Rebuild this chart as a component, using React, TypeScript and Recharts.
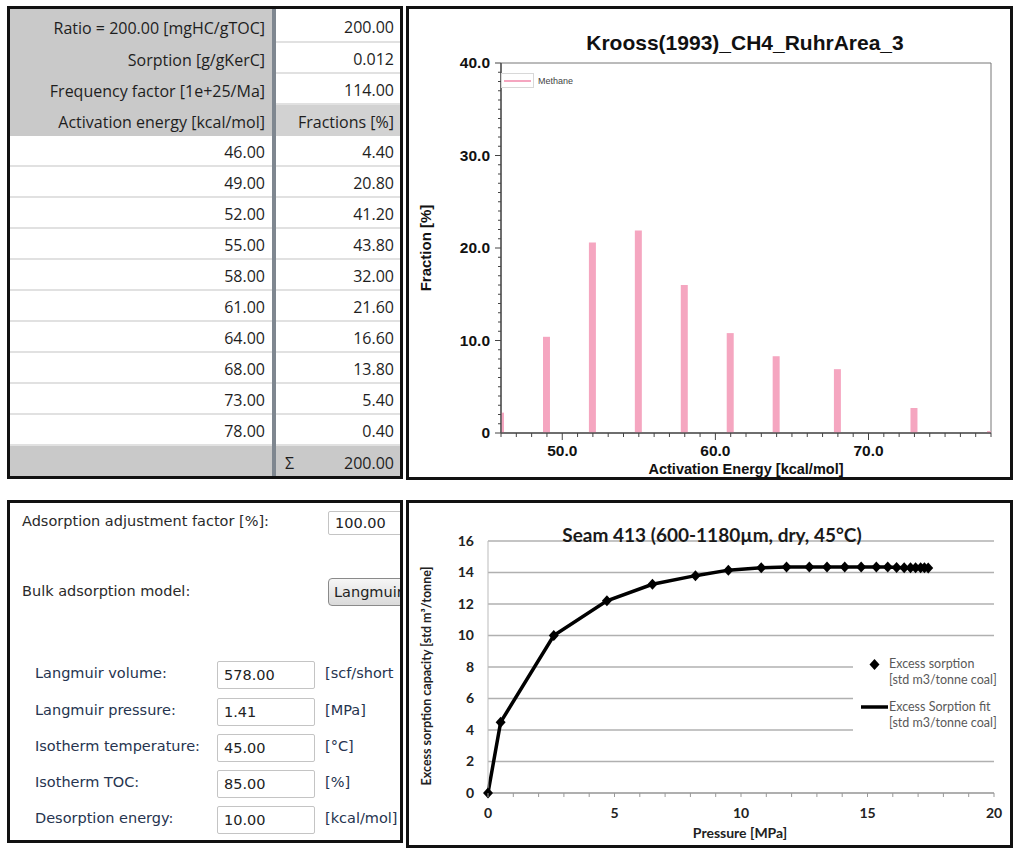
import React from 'react';
import {
  BarChart,
  Bar,
  XAxis,
  YAxis,
  Legend,
  ReferenceArea,
  ComposedChart,
  Line,
  Scatter,
  CartesianGrid,
} from 'recharts';

// kinetic table (top left)
const paramLabels = ['Ratio = 200.00 [mgHC/gTOC]', 'Sorption [g/gKerC]', 'Frequency factor [1e+25/Ma]'];
const paramValues = ['200.00', '0.012', '114.00'];
const activationEnergy = [46, 49, 52, 55, 58, 61, 64, 68, 73, 78];
const tableFractions = [4.4, 20.8, 41.2, 43.8, 32.0, 21.6, 16.6, 13.8, 5.4, 0.4];
const fractionSum = 200;

// bar chart (top right), heights
const barFractions = [2.2, 10.4, 20.6, 21.9, 16.0, 10.8, 8.3, 6.9, 2.7, 0.2];
const energyTicks = Array.from({ length: 33 }, (_, i) => 46 + i);
const energyLabels = [50, 60, 70];
const fractionTicks = Array.from({ length: 41 }, (_, i) => i);
const fractionLabels = [0, 10, 20, 30, 40];

// adsorption form (bottom left)
const formLabels = ['Langmuir volume:', 'Langmuir pressure:', 'Isotherm temperature:', 'Isotherm TOC:', 'Desorption energy:'];
const formValues = ['578.00', '1.41', '45.00', '85.00', '10.00'];
const formUnits = ['[scf/short', '[MPa]', '[\u00b0C]', '[%]', '[kcal/mol]'];

// isotherm (bottom right)
const pressureMPa = [0, 0.5, 2.6, 4.7, 6.5, 8.2, 9.5, 10.8, 11.8, 12.7, 13.4, 14.1, 14.75, 15.35, 15.8, 16.15, 16.45, 16.7, 16.9, 17.1, 17.25, 17.4];
const excessSorption = [0, 4.5, 10.0, 12.2, 13.25, 13.8, 14.15, 14.3, 14.35, 14.35, 14.35, 14.35, 14.35, 14.35, 14.35, 14.32, 14.3, 14.3, 14.3, 14.3, 14.3, 14.28];
const pressureTicks = Array.from({ length: 21 }, (_, i) => i);
const pressureLabels = [0, 5, 10, 15, 20];
const sorptionTicks = [0, 2, 4, 6, 8, 10, 12, 14, 16];

const PINK = '#f5a6c0';
const GRAY = '#c9c9c9';

const panel = (left: number, top: number, width: number, height: number): React.CSSProperties => ({
  position: 'absolute',
  left,
  top,
  width,
  height,
  border: '3px solid #111',
  boxSizing: 'border-box',
  overflow: 'hidden',
  background: '#fff',
});

function KineticTable() {
  const rows: { left: string; right: string; lb: string; rb: string; sigma?: boolean }[] = [];
  paramLabels.forEach((l, i) => rows.push({ left: l, right: paramValues[i], lb: GRAY, rb: '#fff' }));
  rows.push({ left: 'Activation energy [kcal/mol]', right: 'Fractions [%]', lb: GRAY, rb: '#d2d2d2' });
  activationEnergy.forEach((e, i) =>
    rows.push({ left: e.toFixed(2), right: tableFractions[i].toFixed(2), lb: '#fff', rb: '#fff' })
  );
  rows.push({ left: '', right: fractionSum.toFixed(2), lb: GRAY, rb: GRAY, sigma: true });

  const cell = (bg: string, width: number, h: number): React.CSSProperties => ({
    width,
    height: h,
    background: bg,
    boxSizing: 'border-box',
    borderBottom: bg === '#fff' ? '2px solid #e1e1e1' : 'none',
    display: 'flex',
    alignItems: 'center',
    justifyContent: 'flex-end',
    paddingTop: 3,
    position: 'relative',
  });

  return (
    <div style={{ fontFamily: '"Open Sans", sans-serif', fontSize: 16, color: '#1e1e1e' }}>
      {rows.map((r, i) => {
        const h = i === 0 ? 34 : 31;
        return (
          <div key={i} style={{ display: 'flex', height: h }}>
            <div style={{ ...cell(r.lb, 262, h), paddingRight: 7 }}>{r.left}</div>
            <div style={{ width: 4, height: h, background: '#7f8790' }} />
            <div style={{ ...cell(r.rb, 124, h), paddingRight: 6 }}>
              {r.sigma && <span style={{ position: 'absolute', left: 9 }}>Σ</span>}
              {r.right}
            </div>
          </div>
        );
      })}
    </div>
  );
}

function AdsorptionForm() {
  const font: React.CSSProperties = { fontFamily: '"DejaVu Sans", sans-serif', fontSize: 14.5 };
  const box: React.CSSProperties = {
    position: 'absolute',
    border: '1px solid #c4c4c4',
    borderRadius: 2,
    boxSizing: 'border-box',
    display: 'flex',
    alignItems: 'center',
    paddingLeft: 6,
    color: '#222',
  };
  return (
    <div style={{ ...font, position: 'absolute', inset: 0 }}>
      <div style={{ position: 'absolute', left: 12, top: 10, color: '#2a2a2a' }}>Adsorption adjustment factor [%]:</div>
      <div style={{ ...box, left: 318, top: 8, width: 90, height: 24 }}>100.00</div>
      <div style={{ position: 'absolute', left: 12, top: 80, color: '#2a2a2a' }}>Bulk adsorption model:</div>
      <div
        style={{
          ...box,
          left: 318,
          top: 75,
          width: 90,
          height: 28,
          border: '1px solid #8a8a8a',
          borderRadius: 4,
          background: 'linear-gradient(#f6f6f6, #dadada)',
          paddingLeft: 5,
        }}
      >
        Langmuir
      </div>
      {formLabels.map((l, i) => {
        const cy = [172, 209, 245, 281, 317][i];
        return (
          <React.Fragment key={l}>
            <div style={{ position: 'absolute', left: 25, top: cy - 10, color: '#26344f' }}>{l}</div>
            <div style={{ ...box, left: 207, top: cy - 14, width: 98, height: 28 }}>{formValues[i]}</div>
            <div style={{ position: 'absolute', left: 315, top: cy - 10, color: '#26344f', whiteSpace: 'nowrap' }}>
              {formUnits[i]}
            </div>
          </React.Fragment>
        );
      })}
    </div>
  );
}

function EnergyTick({ x, y, payload }: any) {
  const v = payload.value as number;
  const major = energyLabels.includes(v);
  return (
    <g>
      <line x1={x} y1={y} x2={x} y2={y + (major ? 7 : 4)} stroke="#444" />
      {major && (
        <text x={x} y={y + 23} textAnchor="middle" fontFamily="Liberation Sans" fontWeight={700} fontSize={15.5} fill="#111">
          {v.toFixed(1)}
        </text>
      )}
    </g>
  );
}

function FractionTick({ x, y, payload }: any) {
  const v = payload.value as number;
  const major = fractionLabels.includes(v);
  return (
    <g>
      <line x1={x} y1={y} x2={x - (major ? 6 : 3)} y2={y} stroke="#444" />
      {major && (
        <text x={x - 11} y={y + 5} textAnchor="end" fontFamily="Liberation Sans" fontWeight={700} fontSize={15.5} fill="#111">
          {v === 0 ? '0' : v.toFixed(1)}
        </text>
      )}
    </g>
  );
}

function FractionChart() {
  const data = activationEnergy.map((e, i) => ({ energy: e, fraction: barFractions[i] }));
  return (
    <>
      <BarChart width={601} height={468} data={data} margin={{ top: 54, right: 19, bottom: 0, left: 30 }}>
        <ReferenceArea x1={46} x2={78} y1={0} y2={40} fill="none" stroke="#777" strokeWidth={1} />
        <XAxis
          dataKey="energy"
          type="number"
          domain={[46, 78]}
          ticks={energyTicks}
          interval={0}
          allowDataOverflow
          height={44}
          tickSize={0}
          tickMargin={0}
          tickLine={false}
          tick={<EnergyTick />}
          axisLine={{ stroke: '#555', strokeWidth: 1.5 }}
        />
        <YAxis
          type="number"
          domain={[0, 40]}
          ticks={fractionTicks}
          interval={0}
          width={62}
          tickSize={0}
          tickMargin={0}
          tickLine={false}
          tick={<FractionTick />}
          axisLine={{ stroke: '#555', strokeWidth: 1.5 }}
        />
        <Legend
          layout="vertical"
          align="center"
          verticalAlign="middle"
          wrapperStyle={{ left: 92, top: 64, width: 'auto', height: 'auto' }}
          content={() => (
            <div style={{ display: 'flex', alignItems: 'center', fontFamily: 'Liberation Sans', fontSize: 9, color: '#444' }}>
              <div
                style={{
                  width: 33,
                  height: 15,
                  border: '1px solid #d8d8d8',
                  boxSizing: 'border-box',
                  display: 'flex',
                  alignItems: 'center',
                  justifyContent: 'center',
                }}
              >
                <div style={{ width: 27, height: 2, background: PINK }} />
              </div>
              <span style={{ marginLeft: 4 }}>Methane</span>
            </div>
          )}
        />
        <Bar dataKey="fraction" name="Methane" fill={PINK} barSize={7} isAnimationActive={false} />
      </BarChart>
      <div
        style={{
          position: 'absolute',
          left: 336,
          top: 34,
          transform: 'translate(-50%, -50%)',
          whiteSpace: 'nowrap',
          fontFamily: 'Liberation Sans',
          fontWeight: 700,
          fontSize: 21,
          color: '#111',
        }}
      >
        Krooss(1993)_CH4_RuhrArea_3
      </div>
      <div
        style={{
          position: 'absolute',
          left: 16,
          top: 239,
          transform: 'translate(-50%, -50%) rotate(-90deg)',
          whiteSpace: 'nowrap',
          fontFamily: 'Liberation Sans',
          fontWeight: 700,
          fontSize: 15,
          color: '#111',
        }}
      >
        Fraction [%]
      </div>
      <div
        style={{
          position: 'absolute',
          left: 337,
          top: 460,
          transform: 'translate(-50%, -50%)',
          whiteSpace: 'nowrap',
          fontFamily: 'Liberation Sans',
          fontWeight: 700,
          fontSize: 14.5,
          lineHeight: '15px',
          color: '#111',
        }}
      >
        Activation Energy [kcal/mol]
      </div>
    </>
  );
}

function PressureTick({ x, y, payload }: any) {
  const v = payload.value as number;
  return (
    <g>
      <line x1={x} y1={y} x2={x} y2={y + 4} stroke="#999" />
      {pressureLabels.includes(v) && (
        <text x={x} y={y + 25} textAnchor="middle" fontFamily="Lato" fontWeight={700} fontSize={14} fill="#222">
          {v}
        </text>
      )}
    </g>
  );
}

function Diamond({ cx, cy }: any) {
  return <polygon points={`${cx},${cy - 5.5} ${cx + 5},${cy} ${cx},${cy + 5.5} ${cx - 5},${cy}`} fill="#000" />;
}

function IsothermChart() {
  const data = pressureMPa.map((p, i) => ({ p, v: excessSorption[i] }));
  const legendText: React.CSSProperties = { fontFamily: 'Lato', fontSize: 12.5, color: '#595959', lineHeight: '16px' };
  return (
    <>
      <ComposedChart width={601} height={342} margin={{ top: 38, right: 16, bottom: 0, left: 29 }}>
        <CartesianGrid vertical={false} stroke="#b0b0b0" strokeWidth={1.5} />
        <XAxis
          dataKey="p"
          type="number"
          domain={[0, 20]}
          ticks={pressureTicks}
          interval={0}
          height={52}
          tickSize={0}
          tickMargin={0}
          tickLine={false}
          tick={<PressureTick />}
          axisLine={{ stroke: '#a8a8a8', strokeWidth: 1.5 }}
        />
        <YAxis
          dataKey="v"
          type="number"
          domain={[0, 16]}
          ticks={sorptionTicks}
          interval={0}
          width={50}
          tickSize={0}
          tickMargin={14}
          tickLine={false}
          axisLine={{ stroke: '#bbb' }}
          tick={{ fill: '#222', fontSize: 14, fontWeight: 700, fontFamily: 'Lato' }}
        />
        <Line
          data={data}
          dataKey="v"
          type="linear"
          stroke="#000"
          strokeWidth={3.5}
          dot={false}
          name="Excess Sorption fit [std m3/tonne coal]"
          isAnimationActive={false}
        />
        <Scatter data={data} dataKey="v" fill="#000" shape={Diamond} name="Excess sorption [std m3/tonne coal]" isAnimationActive={false} />
        <Legend
          layout="vertical"
          align="center"
          verticalAlign="middle"
          wrapperStyle={{ left: 444, top: 137, width: 170, height: 104, background: '#fff' }}
          content={() => (
            <div style={{ position: 'relative', width: 170, height: 104 }}>
              <svg width={40} height={104} style={{ position: 'absolute', left: 0, top: 0 }}>
                <polygon points="21.5,19 26.5,24.5 21.5,30 16.5,24.5" fill="#000" />
                <line x1={8} y1={67} x2={35} y2={67} stroke="#000" strokeWidth={3.5} />
              </svg>
              <div style={{ ...legendText, position: 'absolute', left: 36, top: 16, whiteSpace: 'nowrap' }}>
                Excess sorption
                <br />
                [std m3/tonne coal]
              </div>
              <div style={{ ...legendText, position: 'absolute', left: 36, top: 59, whiteSpace: 'nowrap' }}>
                Excess Sorption fit
                <br />
                [std m3/tonne coal]
              </div>
            </div>
          )}
        />
      </ComposedChart>
      <div
        style={{
          position: 'absolute',
          left: 303,
          top: 31,
          transform: 'translate(-50%, -50%)',
          whiteSpace: 'nowrap',
          fontFamily: 'Lato',
          fontWeight: 700,
          fontSize: 19,
          color: '#1a1a1a',
        }}
      >
        Seam 413 (600-1180µm, dry, 45°C)
      </div>
      <div
        style={{
          position: 'absolute',
          left: 17,
          top: 173,
          transform: 'translate(-50%, -50%) rotate(-90deg)',
          whiteSpace: 'nowrap',
          fontFamily: 'Lato',
          fontWeight: 700,
          fontSize: 12.5,
          color: '#222',
        }}
      >
        Excess sorption capacity [std m³/tonne]
      </div>
      <div
        style={{
          position: 'absolute',
          left: 331,
          top: 329,
          transform: 'translate(-50%, -50%)',
          whiteSpace: 'nowrap',
          fontFamily: 'Lato',
          fontWeight: 700,
          fontSize: 14,
          color: '#222',
        }}
      >
        Pressure [MPa]
      </div>
    </>
  );
}

export default function App() {
  return (
    <div style={{ position: 'absolute', left: 0, top: 0, width: 1023, height: 852, background: '#fff' }}>
      <div style={panel(7, 6, 396, 473)}>
        <KineticTable />
      </div>
      <div style={panel(406, 6, 607, 474)}>
        <FractionChart />
      </div>
      <div style={panel(7, 500, 396, 343)}>
        <AdsorptionForm />
      </div>
      <div style={panel(406, 500, 607, 348)}>
        <IsothermChart />
      </div>
    </div>
  );
}
